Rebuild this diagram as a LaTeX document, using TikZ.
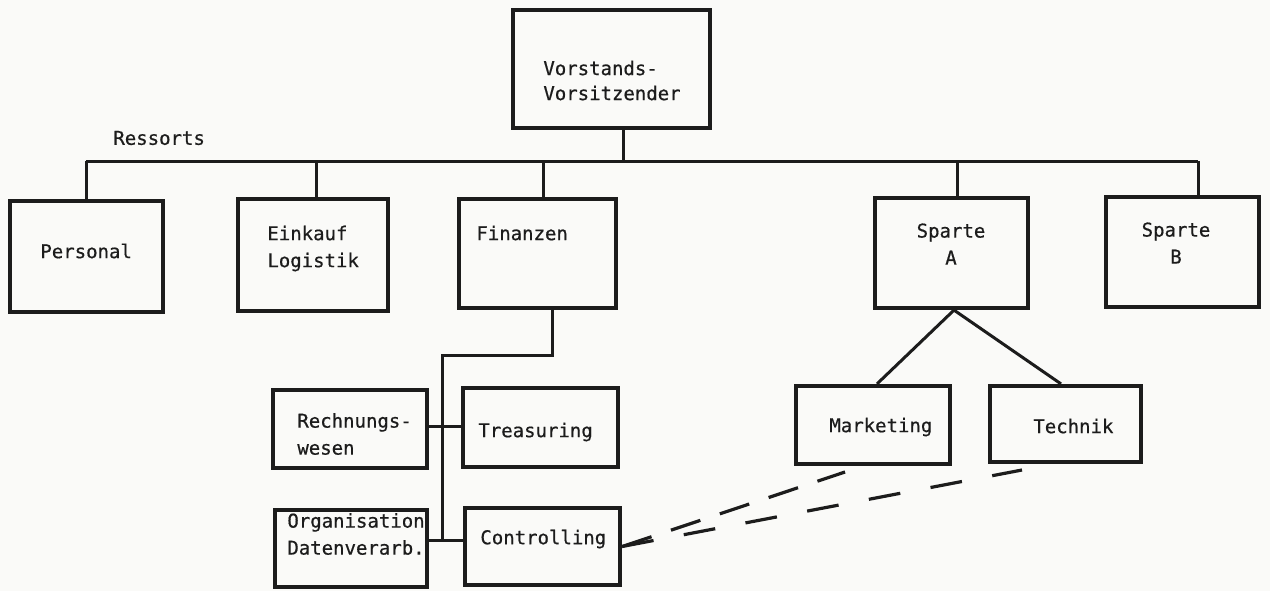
\documentclass[tikz,border=0pt]{standalone}
\usepackage{fontspec}
\newfontfamily\typer{DejaVu Sans Mono}[FakeBold=0.6]
\definecolor{ink}{RGB}{28,28,28}
\definecolor{paper}{RGB}{250,250,248}
\begin{document}
\begin{tikzpicture}[x=0.5pt,y=-0.5pt,
  box/.style={draw=ink, line width=2.1pt, inner sep=0pt, anchor=center},
  conn/.style={draw=ink, line width=1.5pt},
  dashc/.style={draw=ink, line width=1.6pt},
  lbl/.style={font=\typer\fontsize{9.5}{13.5}\selectfont, text=ink, inner sep=0pt, anchor=west, align=left},
  clbl/.style={lbl, anchor=center, align=center}]
\fill[paper] (0,0) rectangle (1270,591);
\useasboundingbox (0,0) rectangle (1270,591);

% boxes
\node[box, minimum width=98.5pt, minimum height=59pt] (V) at (611.5,69) {};
\node[box, minimum width=76.5pt, minimum height=55.5pt] (P) at (86.5,256.5) {};
\node[box, minimum width=75pt, minimum height=56pt] (E) at (313,255) {};
\node[box, minimum width=78.5pt, minimum height=54.5pt] (F) at (537.5,253.5) {};
\node[box, minimum width=76.5pt, minimum height=55pt] (A) at (951.5,253) {};
\node[box, minimum width=76.5pt, minimum height=55pt] (B) at (1182.5,252) {};
\node[box, minimum width=77pt, minimum height=39pt] (R) at (350,429) {};
\node[box, minimum width=77.5pt, minimum height=39.5pt] (T) at (540.5,427.5) {};
\node[box, minimum width=76pt, minimum height=38.5pt] (O) at (351,548.5) {};
\node[box, minimum width=77.5pt, minimum height=38.5pt] (C) at (542.5,546.5) {};
\node[box, minimum width=77pt, minimum height=39pt] (M) at (873,425) {};
\node[box, minimum width=75.5pt, minimum height=38pt] (Te) at (1065.5,424) {};

% texts
\node[lbl, font=\typer\fontsize{9.5}{12.5}\selectfont] (tV) at (543,80.5) {Vorstands-\\Vorsitzender};
\node[lbl] (tRes) at (113,138) {Ressorts};
\node[lbl] (tP) at (40,251) {Personal};
\node[lbl] (tE) at (267,248.5) {Einkauf\\Logistik};
\node[lbl] (tF) at (476,233) {Finanzen};
\node[clbl] (tA) at (951,244) {Sparte\\A};
\node[clbl] (tB) at (1176,243) {Sparte\\B};
\node[lbl] (tR) at (297,434) {Rechnungs-\\wesen};
\node[lbl] (tT) at (478,432) {Treasuring};
\node[lbl] (tO) at (287,534) {Organisation\\Datenverarb.};
\node[lbl] (tC) at (480,539) {Controlling};
\node[lbl] (tM) at (829,427) {Marketing};
\node[lbl] (tTe) at (1033,426) {Technik};

% bus
\coordinate (busL) at (86,161);
\coordinate (busR) at (1198,161);
\draw[conn] (busL) -- (busR);
\draw[conn] ([xshift=5.75pt]V.south) -- ([xshift=5.75pt]V.south |- busL);
\draw[conn] (P.north) -- (P.north |- busL);
\draw[conn] ([xshift=1.5pt]E.north) -- ([xshift=1.5pt]E.north |- busL);
\draw[conn] ([xshift=2.75pt]F.north) -- ([xshift=2.75pt]F.north |- busL);
\draw[conn] ([xshift=2.75pt]A.north) -- ([xshift=2.75pt]A.north |- busL);
\draw[conn] ([xshift=7.75pt]B.north) -- ([xshift=7.75pt]B.north |- busL);

% Finanzen subtree
\coordinate (trTop) at (442,355);
\coordinate (jR) at (442,426);
\coordinate (trBot) at (442,540);
\draw[conn] ([xshift=7.25pt]F.south) |- (trTop) -- (trBot);
\draw[conn] (R.east |- jR) -- (T.west |- jR);
\draw[conn] (O.east |- trBot) -- (C.west |- trBot);

% Sparte A subtree
\draw[conn] ([xshift=1.25pt]A.south) -- ([xshift=2pt]M.north);
\draw[conn] ([xshift=1.25pt]A.south) -- ([xshift=-2.25pt]Te.north);

% dashed links
\coordinate (dM) at (845,472);
\coordinate (dT) at (1022,470);
\draw[dashc, dash pattern=on 15.5pt off 10.25pt] (C.east) -- (dM);
\draw[dashc, dash pattern=on 16pt off 15.4pt] (C.east) -- (dT);
\end{tikzpicture}
\end{document}
